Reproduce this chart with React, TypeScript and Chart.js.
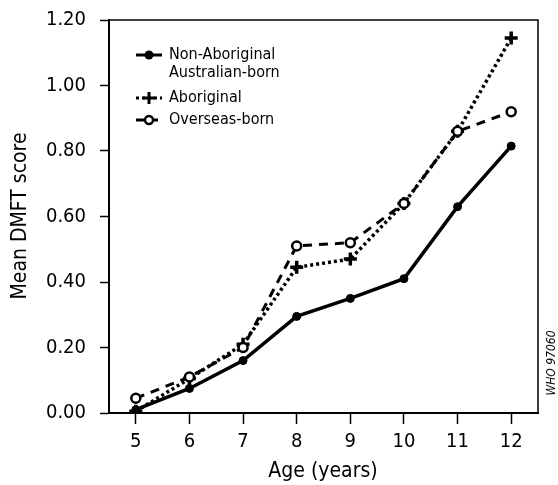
import React, { useEffect, useRef } from "react";
import { Chart, registerables } from "chart.js";

Chart.register(...registerables);

const ages = [5, 6, 7, 8, 9, 10, 11, 12];
const nonAboriginal = [0.01, 0.075, 0.16, 0.295, 0.35, 0.41, 0.63, 0.815];
const aboriginal = [0.005, 0.105, 0.21, 0.445, 0.47, 0.64, 0.86, 1.145];
const overseas = [0.045, 0.11, 0.2, 0.51, 0.52, 0.64, 0.86, 0.92];
const yTicks = [0, 0.2, 0.4, 0.6, 0.8, 1.0, 1.2];

const FONT = "'Liberation Sans Narrow', 'DejaVu Sans Condensed', 'Arial Narrow', sans-serif";

const legendItems = [
  { lines: ["Non-Aboriginal", "Australian-born"], dash: [], marker: "dot" },
  { lines: ["Aboriginal"], dash: [3, 3], marker: "plus" },
  { lines: ["Overseas-born"], dash: [8, 6], marker: "open" },
];

const overlayPlugin = {
  id: "overlay",
  afterDraw(chart: any) {
    const ctx = chart.ctx as CanvasRenderingContext2D;
    ctx.save();
    const a = chart.chartArea;
    ctx.strokeStyle = "#000";
    ctx.lineWidth = 1.5;
    ctx.beginPath();
    ctx.moveTo(a.left, a.top);
    ctx.lineTo(a.right, a.top);
    ctx.lineTo(a.right, a.bottom);
    ctx.stroke();

    // legend
    const rowsY = [55, 98, 120];
    legendItems.forEach((it, i) => {
      const y = rowsY[i];
      ctx.strokeStyle = "#000";
      ctx.lineWidth = 3;
      ctx.setLineDash(it.dash);
      ctx.beginPath();
      ctx.moveTo(136, y);
      ctx.lineTo(162, y);
      ctx.stroke();
      ctx.setLineDash([]);
      if (it.marker === "dot") {
        ctx.fillStyle = "#000";
        ctx.beginPath();
        ctx.arc(149, y, 4.5, 0, Math.PI * 2);
        ctx.fill();
      } else if (it.marker === "plus") {
        ctx.lineWidth = 3;
        ctx.beginPath();
        ctx.moveTo(143, y);
        ctx.lineTo(155, y);
        ctx.moveTo(149, y - 6);
        ctx.lineTo(149, y + 6);
        ctx.stroke();
      } else {
        ctx.fillStyle = "#fff";
        ctx.lineWidth = 2.5;
        ctx.beginPath();
        ctx.arc(149, y, 4, 0, Math.PI * 2);
        ctx.fill();
        ctx.stroke();
      }
      ctx.fillStyle = "#000";
      ctx.font = `16px ${FONT}`;
      ctx.textAlign = "left";
      ctx.textBaseline = "middle";
      it.lines.forEach((t, j) => ctx.fillText(t, 169, y + j * 18));
    });

    // x title
    ctx.fillStyle = "#000";
    ctx.font = `21px ${FONT}`;
    ctx.textAlign = "center";
    ctx.textBaseline = "middle";
    ctx.fillText("Age (years)", 323, 472);

    // y title
    ctx.translate(21, 216);
    ctx.rotate(-Math.PI / 2);
    ctx.fillText("Mean DMFT score", 0, 0);
    ctx.restore();

    // WHO code
    ctx.save();
    ctx.font = `italic 12px ${FONT}`;
    ctx.fillStyle = "#000";
    ctx.textAlign = "center";
    ctx.textBaseline = "middle";
    ctx.translate(552, 363);
    ctx.rotate(-Math.PI / 2);
    ctx.fillText("WHO 97060", 0, 0);
    ctx.restore();
  },
};

export default function App() {
  const ref = useRef<HTMLCanvasElement>(null);
  useEffect(() => {
    document.body.style.margin = "0";
    const toPts = (arr: number[]) => ages.map((x, i) => ({ x, y: arr[i] }));
    const chart = new Chart(ref.current!, {
      type: "line",
      data: {
        datasets: [
          {
            label: "Overseas-born",
            data: toPts(overseas),
            borderColor: "#000",
            borderWidth: 3,
            borderDash: [9, 7],
            pointStyle: "circle",
            pointRadius: 4.5,
            pointBorderWidth: 2.5,
            pointBackgroundColor: "#fff",
            pointBorderColor: "#000",
            tension: 0,
          },
          {
            label: "Aboriginal",
            data: toPts(aboriginal),
            borderColor: "#000",
            borderWidth: 3.5,
            borderDash: [3, 3],
            pointStyle: "cross",
            pointRadius: 6.5,
            pointBorderWidth: 3.5,
            pointBorderColor: "#000",
            tension: 0,
          },
          {
            label: "Non-Aboriginal Australian-born",
            data: toPts(nonAboriginal),
            borderColor: "#000",
            borderWidth: 3.5,
            pointStyle: "circle",
            pointRadius: 4,
            pointBorderWidth: 1,
            pointBackgroundColor: "#000",
            pointBorderColor: "#000",
            tension: 0,
          },
        ],
      },
      options: {
        animation: false,
        responsive: false,
        layout: { padding: { top: 20, right: 20, left: 0, bottom: 0 } },
        plugins: { legend: { display: false }, tooltip: { enabled: false } },
        scales: {
          x: {
            type: "linear",
            min: 4.5,
            max: 12.5,
            afterBuildTicks: (s: any) => {
              s.ticks = ages.map((v) => ({ value: v }));
            },
            afterFit: (s: any) => {
              s.height = 72;
              s.paddingLeft = 0;
              s.paddingRight = 0;
            },
            grid: { drawOnChartArea: false, drawTicks: true, tickLength: 11, tickWidth: 1.5, color: "#000" },
            border: { display: true, color: "#000", width: 2 },
            ticks: { color: "#000", font: { family: FONT, size: 20 }, padding: 6, maxRotation: 0 },
          },
          y: {
            min: 0,
            max: 1.2,
            afterBuildTicks: (s: any) => {
              s.ticks = yTicks.map((v) => ({ value: v }));
            },
            afterFit: (s: any) => {
              s.width = 109;
              s.paddingTop = 0;
              s.paddingBottom = 0;
            },
            grid: { drawOnChartArea: false, drawTicks: true, tickLength: 9, tickWidth: 1.5, color: "#000" },
            border: { display: true, color: "#000", width: 2 },
            ticks: {
              color: "#000",
              font: { family: FONT, size: 20 },
              padding: 14,
              callback: (v: any) => Number(v).toFixed(2),
            },
          },
        },
      },
      plugins: [overlayPlugin],
    });
    return () => chart.destroy();
  }, []);
  return (
    <div style={{ position: "absolute", left: 0, top: 0, width: 558, height: 485 }}>
      <canvas ref={ref} width={558} height={485} style={{ width: 558, height: 485 }} />
    </div>
  );
}
